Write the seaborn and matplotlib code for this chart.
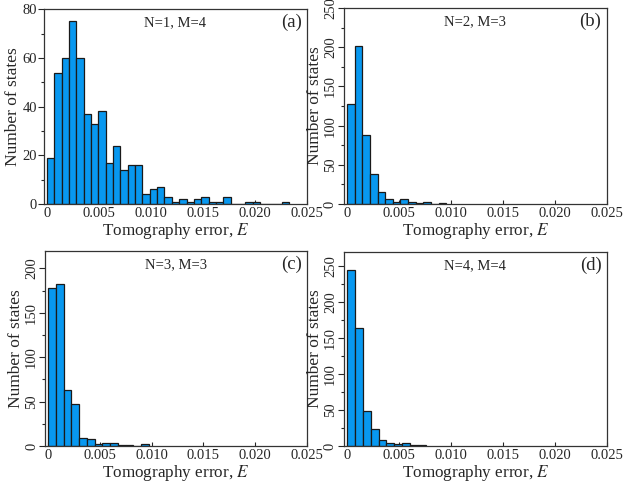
import numpy as np
import pandas as pd
import seaborn as sns
import matplotlib.pyplot as plt
from matplotlib.ticker import MultipleLocator, FuncFormatter

# histogram counts, bins start at E = 0
counts_a = [19, 54, 60, 75, 60, 37, 33, 38, 17, 24, 14, 16, 16, 4, 6, 7, 3,
            1, 2, 1, 2, 3, 1, 1, 3, 0, 0, 1, 1, 0, 0, 0, 1]
counts_b = [128, 202, 88, 38, 15, 7, 3, 7, 3, 1, 2, 0, 1]
counts_c = [178, 182, 63, 47, 9, 8, 2, 3, 3, 1, 1, 0, 2]
counts_d = [245, 164, 49, 23, 8, 4, 3, 4, 1, 2]

bin_widths = [0.000706, 0.000735, 0.00075, 0.00076]
titles = ["N=1, M=4", "N=2, M=3", "N=3, M=3", "N=4, M=4"]
tags = ["(a)", "(b)", "(c)", "(d)"]
y_tops = [80, 250, 220, 270]
y_major = [20, 50, 50, 50]
y_minor = [10, 25, 25, 25]
x_ticks = [0, 0.005, 0.010, 0.015, 0.020, 0.025]

BAR_COLOR = "#0898F0"

sns.set_style("ticks")
plt.rcParams['font.family'] = ['Liberation Serif', 'DejaVu Serif']
plt.rcParams['mathtext.fontset'] = 'stix'

fig = plt.figure(figsize=(6.38, 4.84), dpi=100)
positions = [
    [0.069, 0.5785, 0.412, 0.4025],
    [0.539, 0.5785, 0.412, 0.405],
    [0.0705, 0.0785, 0.4105, 0.4035],
    [0.539, 0.0785, 0.412, 0.4015],
]


def x_fmt(v, pos):
    if abs(v) < 1e-9:
        return "0"
    return "%.3f" % v


for i, counts in enumerate([counts_a, counts_b, counts_c, counts_d]):
    ax = fig.add_axes(positions[i])
    edges = np.arange(len(counts) + 1) * bin_widths[i]
    df = pd.DataFrame({"E": (edges[:-1] + edges[1:]) / 2,
                       "n": np.asarray(counts, dtype=float)})
    sns.histplot(data=df, x="E", weights="n", bins=list(edges), ax=ax,
                 color=BAR_COLOR, edgecolor="#1a1a1a", linewidth=0.9,
                 alpha=1)

    ax.set_xlim(-0.0003, 0.025)
    ax.set_ylim(0, y_tops[i])
    ax.set_xticks(x_ticks)
    ax.xaxis.set_major_formatter(FuncFormatter(x_fmt))
    ax.yaxis.set_major_locator(MultipleLocator(y_major[i]))
    ax.yaxis.set_minor_locator(MultipleLocator(y_minor[i]))
    ax.tick_params(axis='x', which='major', direction='in', length=3,
                   width=0.8, labelsize=10.5, pad=2)
    ax.tick_params(axis='y', which='major', direction='out', length=4,
                   width=0.8, labelsize=10.5, pad=1)
    ax.tick_params(axis='y', which='minor', direction='out', length=2.5,
                   width=0.8)
    if i > 0:
        for lab in ax.get_yticklabels():
            lab.set_rotation(90)
            lab.set_va('center')

    for sp in ax.spines.values():
        sp.set_visible(True)
        sp.set_linewidth(0.9)
        sp.set_color("#333333")

    ax.set_xlabel("Tomography error, $E$", fontsize=12.3, labelpad=1)
    ax.set_ylabel("Number of states", fontsize=12.5, labelpad=1)

    ax.text(0.5, 0.93, titles[i], transform=ax.transAxes, ha='center',
            va='center', fontsize=10.5)
    ax.text(0.98, 0.93, tags[i], transform=ax.transAxes, ha='right',
            va='center', fontsize=13.5)

fig.savefig("out.png", dpi=100)
